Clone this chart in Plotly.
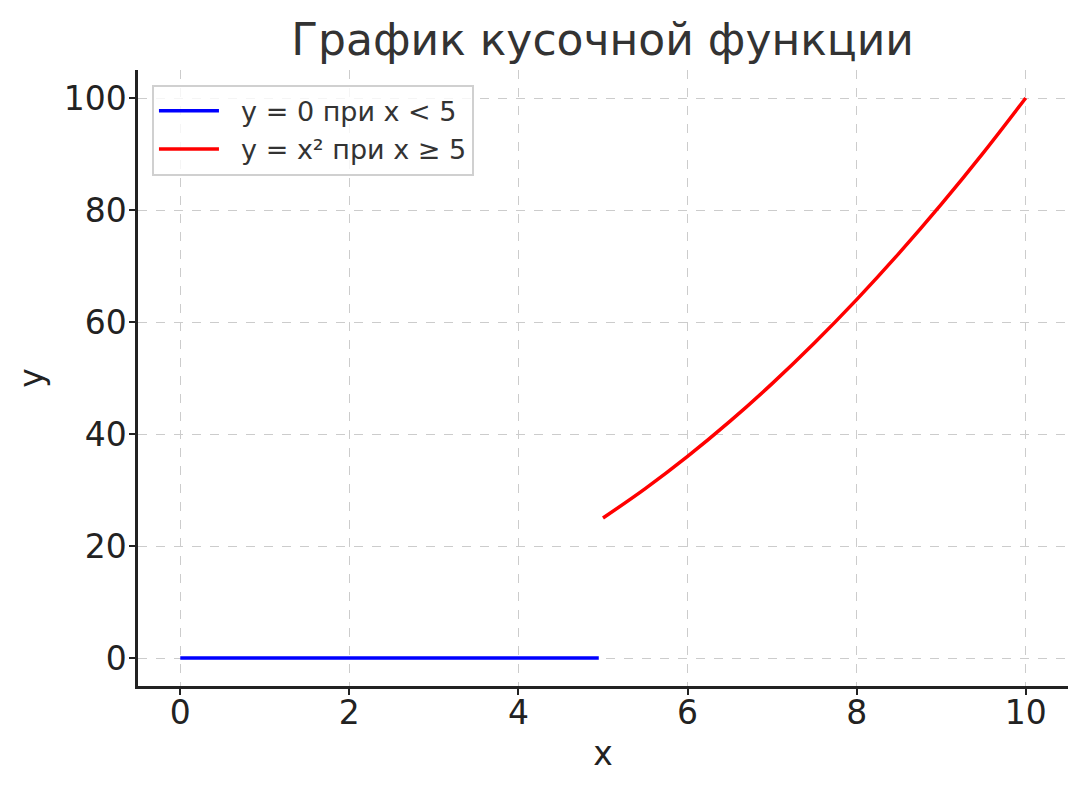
import plotly.graph_objects as go

# Blue segment: y = 0 for x < 5
x_blue = [0.0, 1.0, 2.0, 3.0, 4.0, 4.95]
y_blue = [0, 0, 0, 0, 0, 0]

# Red segment: y = x^2 for x >= 5
x_red = [5.0, 5.5, 6.0, 6.5, 7.0, 7.5, 8.0, 8.5, 9.0, 9.5, 10.0]
y_red = [25.0, 30.25, 36.0, 42.25, 49.0, 56.25, 64.0, 72.25, 81.0, 90.25, 100.0]

x_ticks = [0, 2, 4, 6, 8, 10]
y_ticks = [0, 20, 40, 60, 80, 100]

title_text = "График кусочной функции"
name_blue = "y = 0 при x < 5"
name_red = "y = x² при x ≥ 5"

FONT = "DejaVu Sans"
PAD = "\u00a0\u00a0"

fig = go.Figure()
fig.add_trace(go.Scatter(x=x_blue, y=y_blue, mode="lines", name=PAD + name_blue,
                         line=dict(color="#0000ff", width=3.5)))
fig.add_trace(go.Scatter(x=x_red, y=y_red, mode="lines", name=PAD + name_red,
                         line=dict(color="#ff0000", width=3.5, shape="spline")))

axis_common = dict(
    showgrid=True, gridcolor="#cccccc", griddash="dash", gridwidth=1,
    showline=True, linecolor="#222222", linewidth=2.5,
    ticks="outside", ticklen=6, tickwidth=2, tickcolor="#222222",
    zeroline=False, mirror=False,
    tickfont=dict(family=FONT, size=33, color="#222222"),
)

fig.update_layout(
    width=1087, height=793,
    paper_bgcolor="white", plot_bgcolor="white",
    margin=dict(l=130, r=27, t=62, b=115),
    title=dict(text=title_text, x=0.547, xanchor="center", y=0.96, yanchor="middle",
               font=dict(family=FONT, size=44, color="#333333")),
    font=dict(family=FONT, color="#222222"),
    xaxis=dict(range=[-0.5, 10.5], tickvals=x_ticks, ticklabelstandoff=-10,
               title=dict(text="x", font=dict(family=FONT, size=33, color="#222222"), standoff=11),
               **axis_common),
    yaxis=dict(range=[-5, 105], tickvals=y_ticks, ticklabelstandoff=-4,
               title=dict(text="y", font=dict(family=FONT, size=33, color="#222222"), standoff=11),
               **axis_common),
    legend=dict(x=0.015, y=0.976, xanchor="left", yanchor="top",
                bgcolor="rgba(255,255,255,0.8)", bordercolor="#d0d0d0", borderwidth=2,
                font=dict(family=FONT, size=27, color="#333333"),
                itemwidth=60),
    showlegend=True,
)

fig.write_html("out.html")
